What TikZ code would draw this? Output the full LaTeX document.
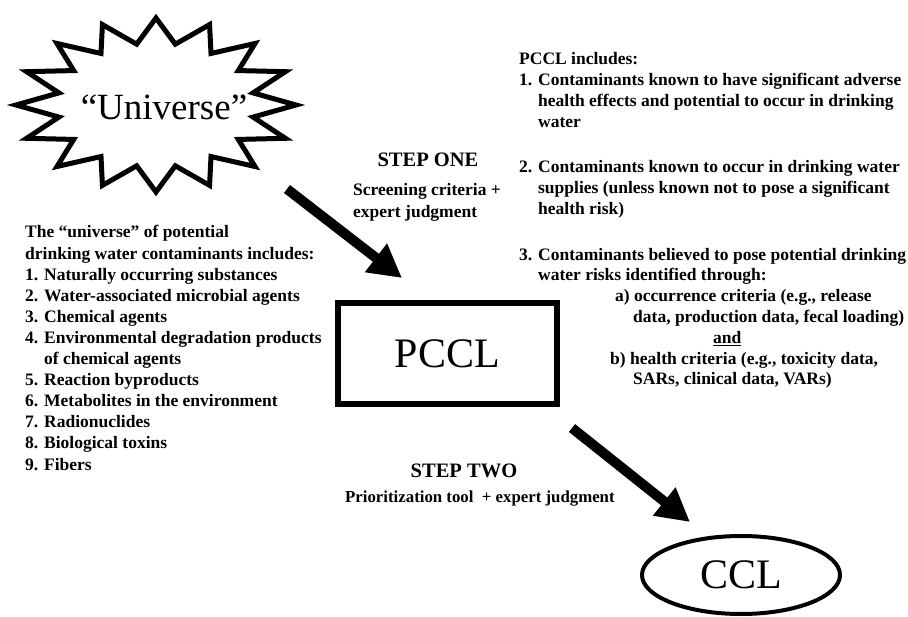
\documentclass[tikz,border=0pt]{standalone}
\usepackage{fontspec}
\setmainfont{Liberation Serif}
\usetikzlibrary{arrows.meta,shapes.geometric}
\begin{document}
\begin{tikzpicture}[x=1pt,y=-1pt,
  txt/.style={inner sep=0pt, font=\fontsize{17.5}{20.8}\selectfont\bfseries},
  steptitle/.style={inner sep=0pt, font=\fontsize{20.5}{24}\selectfont\bfseries},
  bigarrow/.style={line width=10pt, -{Triangle[length=33pt,width=34pt]}},
  bigtext/.style={font=\fontsize{42}{48}\selectfont}]
\useasboundingbox (0,0) rectangle (908,617);

% starburst
\begin{scope}[shift={(156,105)}]
\draw[line width=5pt, line join=miter, miter limit=20] (0:140 and 87)
  \foreach \i [evaluate=\i as \rx using {mod(\i,2)==0 ? 140 : 99},
               evaluate=\i as \ry using {mod(\i,2)==0 ? 87 : 62}] in {1,...,31}
  { -- ({\i*11.25}:{\rx} and {\ry}) } -- cycle;
\end{scope}
\node[inner sep=0pt, font=\fontsize{37}{42}\selectfont] (universe) at (164,107) {“Universe”};

% left list
\node[txt, anchor=base west, font=\fontsize{17.5}{21.1}\selectfont\bfseries] (unilist) at (25,238) {\begin{tabular}[t]{@{}l@{}}
The “universe” of potential\\
drinking water contaminants includes:\\
1. Naturally occurring substances\\
2. Water-associated microbial agents\\
3. Chemical agents\\
4. Environmental degradation products\\
\phantom{4. }of chemical agents\\
5. Reaction byproducts\\
6. Metabolites in the environment\\
7. Radionuclides\\
8. Biological toxins\\
9. Fibers
\end{tabular}};

% right list
\node[txt, anchor=base west] (pcclinc) at (519,65) {\begin{tabular}[t]{@{}l@{}}
PCCL includes:\\
1. Contaminants known to have significant adverse\\
\phantom{1. }health effects and potential to occur in drinking\\
\phantom{1. }water\\[4pt]
\\
2. Contaminants known to occur in drinking water\\
\phantom{2. }supplies (unless known not to pose a significant\\
\phantom{2. }health risk)\\[4pt]
\\
3. Contaminants believed to pose potential drinking\\
\phantom{3. }water risks identified through:\\
\hspace*{96pt}a) occurrence criteria (e.g., release\\
\hspace*{114pt}data, production data, fecal loading)\\
\hspace*{194pt}\underline{and}\\
\hspace*{91pt}b) health criteria (e.g., toxicity data,\\
\hspace*{114pt}SARs, clinical data, VARs)
\end{tabular}};

% step one
\node[steptitle, anchor=base] (step1) at (428,167) {STEP ONE};
\node[txt, anchor=base west] (step1sub) at (353,196) {\begin{tabular}[t]{@{}l@{}}
Screening criteria +\\[1pt]
expert judgment
\end{tabular}};

% PCCL box
\node[draw, line width=6pt, minimum width=219pt, minimum height=101pt, inner sep=0pt,
      bigtext] (pccl) at (447.5,353.5) {PCCL};

% step two
\node[steptitle, anchor=base] (step2) at (464,478) {STEP TWO};
\node[txt, anchor=base west, font=\fontsize{16.8}{20}\selectfont\bfseries] (step2sub) at (345,503)
  {Prioritization tool\ \ + expert judgment};

% CCL ellipse
\node[draw, ellipse, line width=4pt, minimum width=198pt, minimum height=78pt, inner sep=0pt,
      bigtext] (ccl) at (741,575) {CCL};

% arrows
\coordinate (a1s) at (287,189);
\coordinate (a1e) at (402,278);
\draw[bigarrow] (a1s) -- (a1e);
\coordinate (a2s) at (572,428);
\coordinate (a2e) at (690,522);
\draw[bigarrow] (a2s) -- (a2e);
\end{tikzpicture}
\end{document}
